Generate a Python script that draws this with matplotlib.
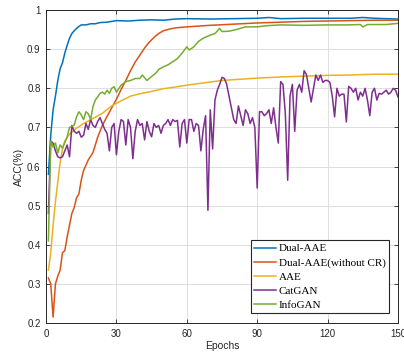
#!/usr/bin/env python
"""
Clustering accuracy vs. training epochs for Dual-AAE and baselines.
"""
import matplotlib
matplotlib.use('Agg')
import matplotlib.pyplot as plt

# --- data -----------------------------------------------------------------
dual_aae_epochs = [1, 2, 3, 4, 5, 6, 7, 8, 9, 10, 11, 12, 13, 14, 15, 17, 19,
                   21, 23, 26, 30, 35, 40, 45, 50, 55, 60, 70, 80, 90, 95,
                   100, 110, 120, 130, 135, 140, 150]
dual_aae_acc = [0.58, 0.68, 0.745, 0.78, 0.82, 0.85, 0.865, 0.89, 0.91, 0.928,
                0.94, 0.947, 0.953, 0.958, 0.962, 0.962, 0.965, 0.965, 0.968,
                0.969, 0.973, 0.972, 0.974, 0.975, 0.974, 0.977, 0.978, 0.977,
                0.978, 0.979, 0.981, 0.978, 0.979, 0.979, 0.979, 0.981, 0.979,
                0.977]

no_cr_epochs = [1, 2, 3, 4, 5, 6, 7, 8, 9, 10, 11, 12, 13, 14, 15, 16, 18,
                20, 21, 22, 24, 26, 28, 30, 32, 34, 36, 38, 40, 42, 44, 46,
                48, 50, 53, 56, 60, 70, 80, 90, 100, 110, 120, 130, 140, 150]
no_cr_acc = [0.315, 0.30, 0.215, 0.30, 0.32, 0.335, 0.38, 0.385, 0.42, 0.45,
             0.48, 0.495, 0.52, 0.53, 0.565, 0.59, 0.617, 0.636, 0.655, 0.675,
             0.705, 0.728, 0.75, 0.772, 0.797, 0.82, 0.845, 0.867, 0.885,
             0.903, 0.918, 0.93, 0.94, 0.947, 0.952, 0.955, 0.957, 0.961,
             0.964, 0.967, 0.969, 0.971, 0.972, 0.973, 0.974, 0.974]

aae_epochs = [1, 2, 3, 4, 5, 6, 7, 8, 10, 13, 16, 20, 24, 28, 32, 36, 40, 45,
              50, 55, 60, 65, 70, 75, 80, 90, 100, 110, 120, 130, 140, 150]
aae_acc = [0.335, 0.38, 0.45, 0.51, 0.56, 0.61, 0.645, 0.665, 0.683, 0.698,
           0.71, 0.723, 0.736, 0.755, 0.768, 0.78, 0.786, 0.792, 0.799, 0.803,
           0.808, 0.812, 0.816, 0.82, 0.822, 0.826, 0.829, 0.831, 0.833,
           0.834, 0.836, 0.836]

catgan_epochs = list(range(1, 151))
catgan_acc = [
    0.48, 0.665, 0.66, 0.64, 0.625, 0.622, 0.625, 0.64, 0.655, 0.625,
    0.705, 0.69, 0.685, 0.69, 0.675, 0.68, 0.71, 0.695, 0.72, 0.705,
    0.70, 0.715, 0.725, 0.71, 0.695, 0.685, 0.64, 0.70, 0.71, 0.63,
    0.69, 0.72, 0.715, 0.655, 0.72, 0.70, 0.62, 0.69, 0.72, 0.705,
    0.71, 0.668, 0.715, 0.69, 0.676, 0.71, 0.70, 0.705, 0.685, 0.705,
    0.71, 0.72, 0.705, 0.72, 0.715, 0.718, 0.65, 0.71, 0.72, 0.66,
    0.72, 0.72, 0.69, 0.71, 0.705, 0.64, 0.695, 0.73, 0.488, 0.745,
    0.645, 0.77, 0.795, 0.81, 0.828, 0.825, 0.81, 0.78, 0.75, 0.72,
    0.71, 0.755, 0.73, 0.705, 0.745, 0.735, 0.71, 0.725, 0.70, 0.545,
    0.74, 0.74, 0.73, 0.735, 0.745, 0.71, 0.75, 0.70, 0.66, 0.817,
    0.81, 0.735, 0.565, 0.78, 0.81, 0.69, 0.795, 0.81, 0.79, 0.845,
    0.835, 0.80, 0.765, 0.80, 0.834, 0.82, 0.834, 0.815, 0.82, 0.82,
    0.815, 0.78, 0.727, 0.80, 0.78, 0.785, 0.785, 0.714, 0.805, 0.80,
    0.79, 0.80, 0.77, 0.79, 0.78, 0.80, 0.77, 0.73, 0.79, 0.80,
    0.77, 0.787, 0.785, 0.79, 0.795, 0.785, 0.79, 0.80, 0.795, 0.778,
]

infogan_epochs = [1, 2, 3, 4, 5, 6, 7, 9, 10, 12, 13, 14, 15, 16, 17, 18, 19,
                  20, 21, 22, 23, 24, 25, 26, 27, 28, 29, 30, 32, 34, 36, 38,
                  40, 41, 43, 45, 47, 48, 50, 52, 54, 56, 58, 60, 61, 63, 65,
                  67, 70, 72, 74, 75, 78, 81, 85, 90, 94, 100, 110, 120, 128,
                  134, 135, 137, 145, 150]
infogan_acc = [0.41, 0.665, 0.65, 0.66, 0.635, 0.655, 0.647, 0.676, 0.70,
               0.706, 0.727, 0.74, 0.732, 0.72, 0.74, 0.735, 0.72, 0.753,
               0.77, 0.778, 0.787, 0.79, 0.785, 0.795, 0.787, 0.80, 0.804,
               0.79, 0.808, 0.817, 0.82, 0.825, 0.825, 0.834, 0.82, 0.83,
               0.84, 0.848, 0.855, 0.86, 0.868, 0.876, 0.89, 0.906, 0.898,
               0.906, 0.92, 0.928, 0.936, 0.94, 0.953, 0.945, 0.946, 0.95,
               0.957, 0.957, 0.96, 0.962, 0.961, 0.962, 0.962, 0.963, 0.957,
               0.963, 0.963, 0.966]

x_ticks = [0, 30, 60, 90, 120, 150]
y_ticks = [0.2, 0.3, 0.4, 0.5, 0.6, 0.7, 0.8, 0.9, 1.0]
y_tick_labels = ['0.2', '0.3', '0.4', '0.5', '0.6', '0.7', '0.8', '0.9', '1']


def plot():
    dark = (0.15, 0.15, 0.15)
    plt.rcParams['font.family'] = ['Liberation Sans', 'DejaVu Sans']

    fig = plt.figure(figsize=(4.04, 3.54), dpi=100)
    ax = fig.add_axes([0.114, 0.0876, 0.871, 0.884])

    series = [
        (dual_aae_epochs, dual_aae_acc, '#0072BD', 'Dual-AAE'),
        (no_cr_epochs, no_cr_acc, '#D95319', 'Dual-AAE(without CR)'),
        (aae_epochs, aae_acc, '#EDB120', 'AAE'),
        (catgan_epochs, catgan_acc, '#7E2F8E', 'CatGAN'),
        (infogan_epochs, infogan_acc, '#77AC30', 'InfoGAN'),
    ]
    for epochs, acc, color, label in series:
        ax.plot(epochs, acc, color=color, linewidth=1.1, label=label)

    ax.set_xlim(0, 150)
    ax.set_ylim(0.2, 1.0)
    ax.set_xticks(x_ticks)
    ax.set_yticks(y_ticks)
    ax.set_yticklabels(y_tick_labels)
    ax.grid(True, color='#dedede', linewidth=0.7)
    ax.set_axisbelow(True)
    ax.tick_params(direction='in', top=True, right=True, length=3,
                   width=0.6, color=dark, labelcolor=dark, labelsize=7,
                   pad=4)
    for spine in ax.spines.values():
        spine.set_color(dark)
        spine.set_linewidth(0.7)

    ax.set_xlabel('Epochs', fontsize=7.5, color=dark, labelpad=2)
    ax.set_ylabel('ACC(%)', fontsize=7.5, color=dark, labelpad=2)

    legend = ax.legend(loc='lower right', bbox_to_anchor=(0.975, 0.032),
                       prop={'family': 'Liberation Serif', 'size': 8},
                       fancybox=False, framealpha=1, edgecolor=dark,
                       handlelength=2.0, handletextpad=0.25,
                       labelspacing=0.38, borderpad=0.3, borderaxespad=0)
    legend.get_frame().set_linewidth(0.8)

    fig.savefig('out.png', dpi=100)


def main():
    plot()


if __name__ == '__main__':
    main()
